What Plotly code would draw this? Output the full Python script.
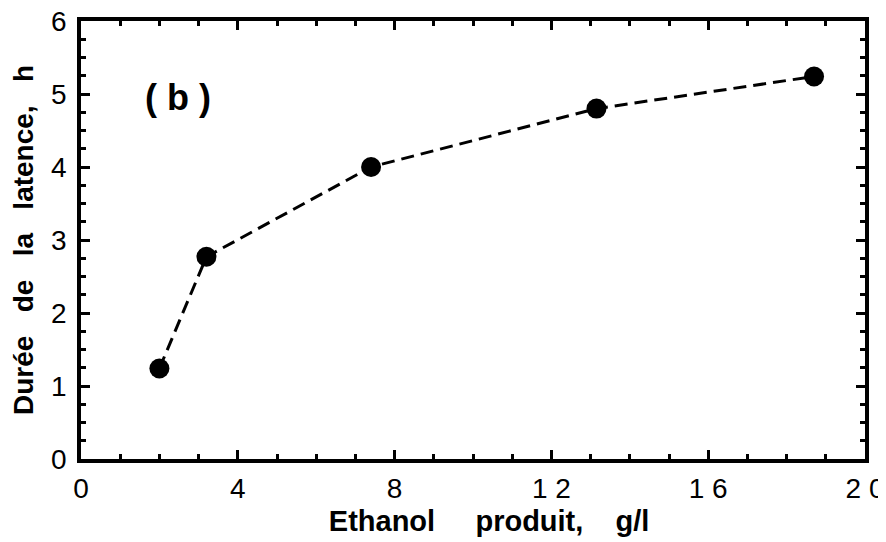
import plotly.graph_objects as go

ethanol = [2.0, 3.2, 7.4, 13.15, 18.7]
latence = [1.24, 2.77, 4.0, 4.8, 5.24]
x_tickvals = [0, 4, 8, 12, 16, 20]
x_ticktext = ["0", "4", "8", "1 2", "1 6", "2 0"]
y_tickvals = [0, 1, 2, 3, 4, 5, 6]
y_ticktext = ["0", "1", "2", "3", "4", "5", "6"]

font = "Liberation Sans, Arial, Helvetica, sans-serif"

fig = go.Figure()
fig.add_trace(go.Scatter(
    x=ethanol, y=latence, mode="lines+markers",
    line=dict(color="black", width=3, dash="13px,7px"),
    marker=dict(color="black", size=20),
    showlegend=False,
))

fig.add_annotation(x=0.124, y=0.826, xref="paper", yref="paper",
                   xanchor="center", yanchor="middle",
                   text="<b>( b )</b>", showarrow=False,
                   font=dict(family=font, size=36, color="black"))

axis_common = dict(
    showline=True, linecolor="black", linewidth=3.5, mirror="ticks",
    ticks="inside", tickwidth=3, tickcolor="black", ticklen=9,
    showgrid=False, zeroline=False, automargin=False,
    ticklabeloverflow="allow",
    tickfont=dict(family=font, size=28, color="black"),
)

fig.update_xaxes(range=[0, 20], tickvals=x_tickvals, ticktext=x_ticktext,
                 ticklabelstandoff=2,
                 minor=dict(dtick=1, ticks="inside", ticklen=5, tickwidth=3, tickcolor="black"),
                 title=dict(text="<b>&nbsp;&nbsp;&nbsp;&nbsp;Ethanol     produit,    g/l</b>",
                            font=dict(family=font, size=29, color="black"), standoff=8),
                 **axis_common)
fig.update_yaxes(range=[0, 6], tickvals=y_tickvals, ticktext=y_ticktext,
                 ticklabelstandoff=5,
                 minor=dict(dtick=0.25, ticks="inside", ticklen=5, tickwidth=3, tickcolor="black"),
                 title=dict(text="<b>Durée   de   la   latence,   h</b>",
                            font=dict(family=font, size=28, color="black"), standoff=24),
                 **axis_common)

fig.update_layout(
    width=886, height=542,
    margin=dict(l=73, r=29, t=13, b=91),
    plot_bgcolor="white", paper_bgcolor="white",
)

fig.write_html("out.html")
